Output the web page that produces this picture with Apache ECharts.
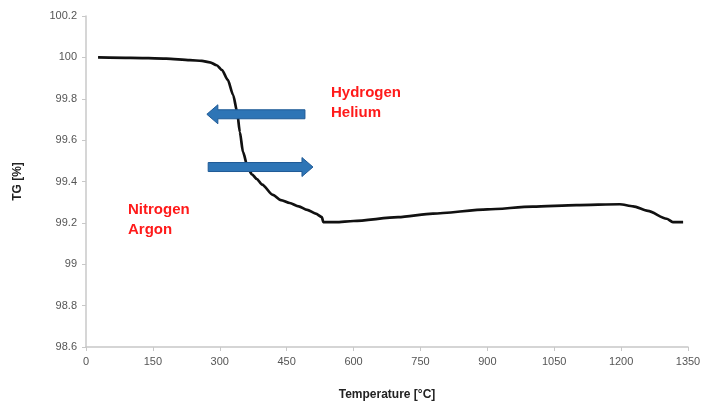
<!DOCTYPE html>
<html>
<head>
<meta charset="utf-8">
<script src="https://cdn.jsdelivr.net/npm/echarts@6/dist/echarts.min.js"></script>
<style>
  html, body { margin: 0; padding: 0; background: #fff; }
  #chart { width: 704px; height: 407px; }
</style>
</head>
<body>
<div id="chart"></div>
<script>
// Thermogravimetric curve: mass (TG %) against temperature (°C)
const temperature = [27, 100, 180, 233, 260, 278, 293, 305, 318, 330, 339, 345, 352, 363, 372, 383, 395, 419, 437, 457, 477, 496, 515, 529, 532,
  560, 600, 700, 778, 900, 1002, 1100, 1197, 1227, 1260, 1302, 1316, 1339];
const tgPercent = [100.0, 99.998, 99.994, 99.987, 99.983, 99.976, 99.962, 99.939, 99.891, 99.818, 99.736, 99.639, 99.543, 99.465, 99.435, 99.412, 99.385, 99.335, 99.31, 99.296, 99.28, 99.263, 99.245, 99.228, 99.204,
  99.204, 99.209, 99.228, 99.245, 99.265, 99.279, 99.286, 99.29, 99.28, 99.258, 99.22, 99.204, 99.204];

// Direction arrows: [start temperature, end temperature, TG level]
const arrowLeft = [491, 271, 99.725];
const arrowRight = [274, 509, 99.47];

// Axis tick setup
const xTicks = { min: 0, max: 1350, interval: 150 };
const yTicks = { min: 98.6, max: 100.2, interval: 0.2 };

const curve = temperature.map((t, i) => [t, tgPercent[i]]);

const chart = echarts.init(document.getElementById('chart'), null, { renderer: 'canvas' });

function blockArrow(params, api) {
  const p0 = api.coord([api.value(0), api.value(2)]);
  const p1 = api.coord([api.value(1), api.value(2)]);
  const dir = p1[0] > p0[0] ? 1 : -1;
  const shaftHalf = 4.5;
  const headHalf = 9.5;
  const headLen = 11;
  const x0 = p0[0], x1 = p1[0], y = p0[1];
  const xb = x1 - dir * headLen;
  return {
    type: 'polygon',
    shape: {
      points: [
        [x0, y - shaftHalf], [xb, y - shaftHalf], [xb, y - headHalf], [x1, y],
        [xb, y + headHalf], [xb, y + shaftHalf], [x0, y + shaftHalf]
      ]
    },
    style: { fill: '#2e75b6', stroke: '#1f5a96', lineWidth: 1 }
  };
}

chart.setOption({
  animation: false,
  backgroundColor: '#ffffff',
  grid: { left: 86, right: 16, top: 16, bottom: 60 },
  xAxis: {
    type: 'value',
    min: xTicks.min, max: xTicks.max, interval: xTicks.interval,
    name: 'Temperature [°C]',
    nameLocation: 'middle',
    nameGap: 42,
    nameTextStyle: { fontFamily: 'Liberation Sans', fontWeight: 'bold', fontSize: 12, color: '#222' },
    axisLine: { lineStyle: { color: '#c8c8c8', width: 1.5 } },
    axisTick: { show: true, inside: false, length: 4, lineStyle: { color: '#c8c8c8' } },
    axisLabel: { fontFamily: 'Liberation Sans', fontSize: 11, color: '#555', margin: 9, formatter: v => String(v) },
    splitLine: { show: false }
  },
  yAxis: {
    type: 'value',
    min: yTicks.min, max: yTicks.max, interval: yTicks.interval,
    name: 'TG [%]',
    nameLocation: 'middle',
    nameGap: 62,
    nameRotate: 90,
    nameTextStyle: { fontFamily: 'Liberation Sans', fontWeight: 'bold', fontSize: 12, color: '#222' },
    axisLine: { show: true, lineStyle: { color: '#c8c8c8', width: 1.5 } },
    axisTick: { show: true, inside: false, length: 4, lineStyle: { color: '#c8c8c8' } },
    axisLabel: {
      fontFamily: 'Liberation Sans', fontSize: 11, color: '#555', margin: 9,
      formatter: v => String(parseFloat(v.toFixed(1)))
    },
    splitLine: { show: false }
  },
  series: [
    {
      type: 'line',
      data: curve,
      smooth: 0.25,
      smoothMonotone: 'x',
      showSymbol: false,
      lineStyle: { color: '#111', width: 2.7 },
      z: 3
    },
    {
      type: 'custom',
      renderItem: blockArrow,
      data: [arrowLeft, arrowRight],
      encode: { x: [0, 1], y: 2 },
      z: 4
    }
  ],
  graphic: [
    { type: 'text', left: 331, top: 83, style: { text: 'Hydrogen\nHelium', fill: '#ff1a1a', font: 'bold 15px "Liberation Sans"', lineHeight: 20 } },
    { type: 'text', left: 128, top: 200, style: { text: 'Nitrogen\nArgon', fill: '#ff1a1a', font: 'bold 15px "Liberation Sans"', lineHeight: 20 } }
  ]
});
</script>
</body>
</html>
